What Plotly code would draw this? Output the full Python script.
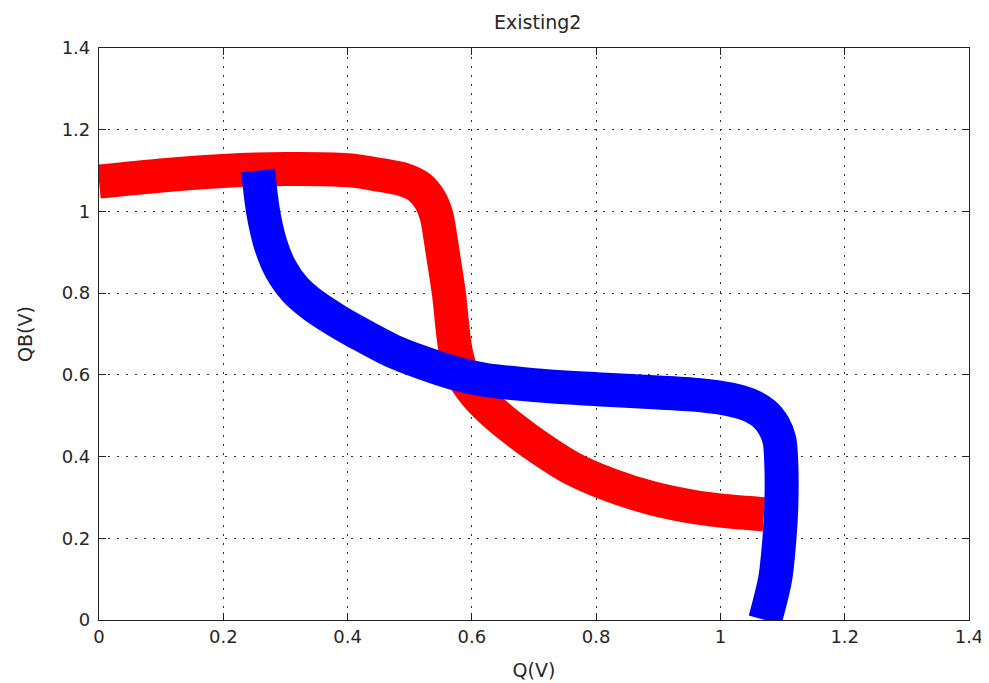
import plotly.graph_objects as go

# Data (Q in volts, QB in volts)
red_q = [0.0, 0.1, 0.2, 0.3, 0.4, 0.45, 0.49, 0.515, 0.532, 0.543, 0.549, 0.553, 0.563,
         0.57, 0.575, 0.585, 0.605, 0.63, 0.665, 0.71, 0.76, 0.82, 0.89, 0.96, 1.02, 1.07]
red_qb = [1.073, 1.088, 1.099, 1.104, 1.101, 1.09, 1.078, 1.06, 1.03, 0.99, 0.94, 0.9, 0.8,
          0.7, 0.65, 0.6, 0.555, 0.515, 0.47, 0.42, 0.372, 0.332, 0.298, 0.276, 0.265, 0.259]

blue_q = [0.256, 0.264, 0.276, 0.292, 0.315, 0.345, 0.38, 0.42, 0.47, 0.52, 0.57, 0.62,
          0.7, 0.8, 0.9, 0.97, 1.015, 1.045, 1.07, 1.086, 1.095, 1.098, 1.098, 1.095,
          1.088, 1.072]
blue_qb = [1.10, 1.0, 0.92, 0.86, 0.81, 0.77, 0.735, 0.70, 0.66, 0.63, 0.605, 0.588,
           0.575, 0.565, 0.557, 0.55, 0.54, 0.527, 0.505, 0.475, 0.44, 0.38, 0.28, 0.2,
           0.1, 0.0]

tick_vals = [0, 0.2, 0.4, 0.6, 0.8, 1.0, 1.2, 1.4]
tick_text = ["0", "0.2", "0.4", "0.6", "0.8", "1", "1.2", "1.4"]

FONT = "DejaVu Sans, Liberation Sans, Arial, sans-serif"
TXT = "#262626"

fig = go.Figure()
fig.add_trace(go.Scatter(x=red_q, y=red_qb, mode="lines",
                         line=dict(color="#ff0000", width=34, shape="spline", smoothing=0.8),
                         showlegend=False, hoverinfo="skip"))
fig.add_trace(go.Scatter(x=blue_q, y=blue_qb, mode="lines",
                         line=dict(color="#0000ff", width=34, shape="spline", smoothing=0.8),
                         showlegend=False, hoverinfo="skip"))

axis_common = dict(
    tickvals=tick_vals, ticktext=tick_text, range=[0, 1.4],
    showgrid=True, gridcolor="#333333", gridwidth=1, griddash="2px,7px",
    zeroline=False, showline=True, linecolor="#222222", linewidth=1.2,
    ticks="inside", ticklen=7, tickcolor="#222222", mirror="ticks",
    tickfont=dict(family=FONT, size=18, color=TXT),
    automargin=False,
)

# The page body has an 8px default margin, so the figure is sized to fit in the window.
fig.update_layout(
    width=981, height=675,
    margin=dict(l=91, r=20, t=40, b=63),
    paper_bgcolor="white", plot_bgcolor="white",
    title=dict(text="Existing2", x=0.54, xanchor="center", y=0.979, yanchor="middle",
               font=dict(family=FONT, size=19, color=TXT)),
    xaxis=dict(axis_common, title=dict(text="Q(V)", standoff=17,
                                       font=dict(family=FONT, size=19, color=TXT))),
    yaxis=dict(axis_common, ticklabelstandoff=4,
               title=dict(text="QB(V)", standoff=24,
                          font=dict(family=FONT, size=19, color=TXT))),
)

fig.write_html("out.html")
